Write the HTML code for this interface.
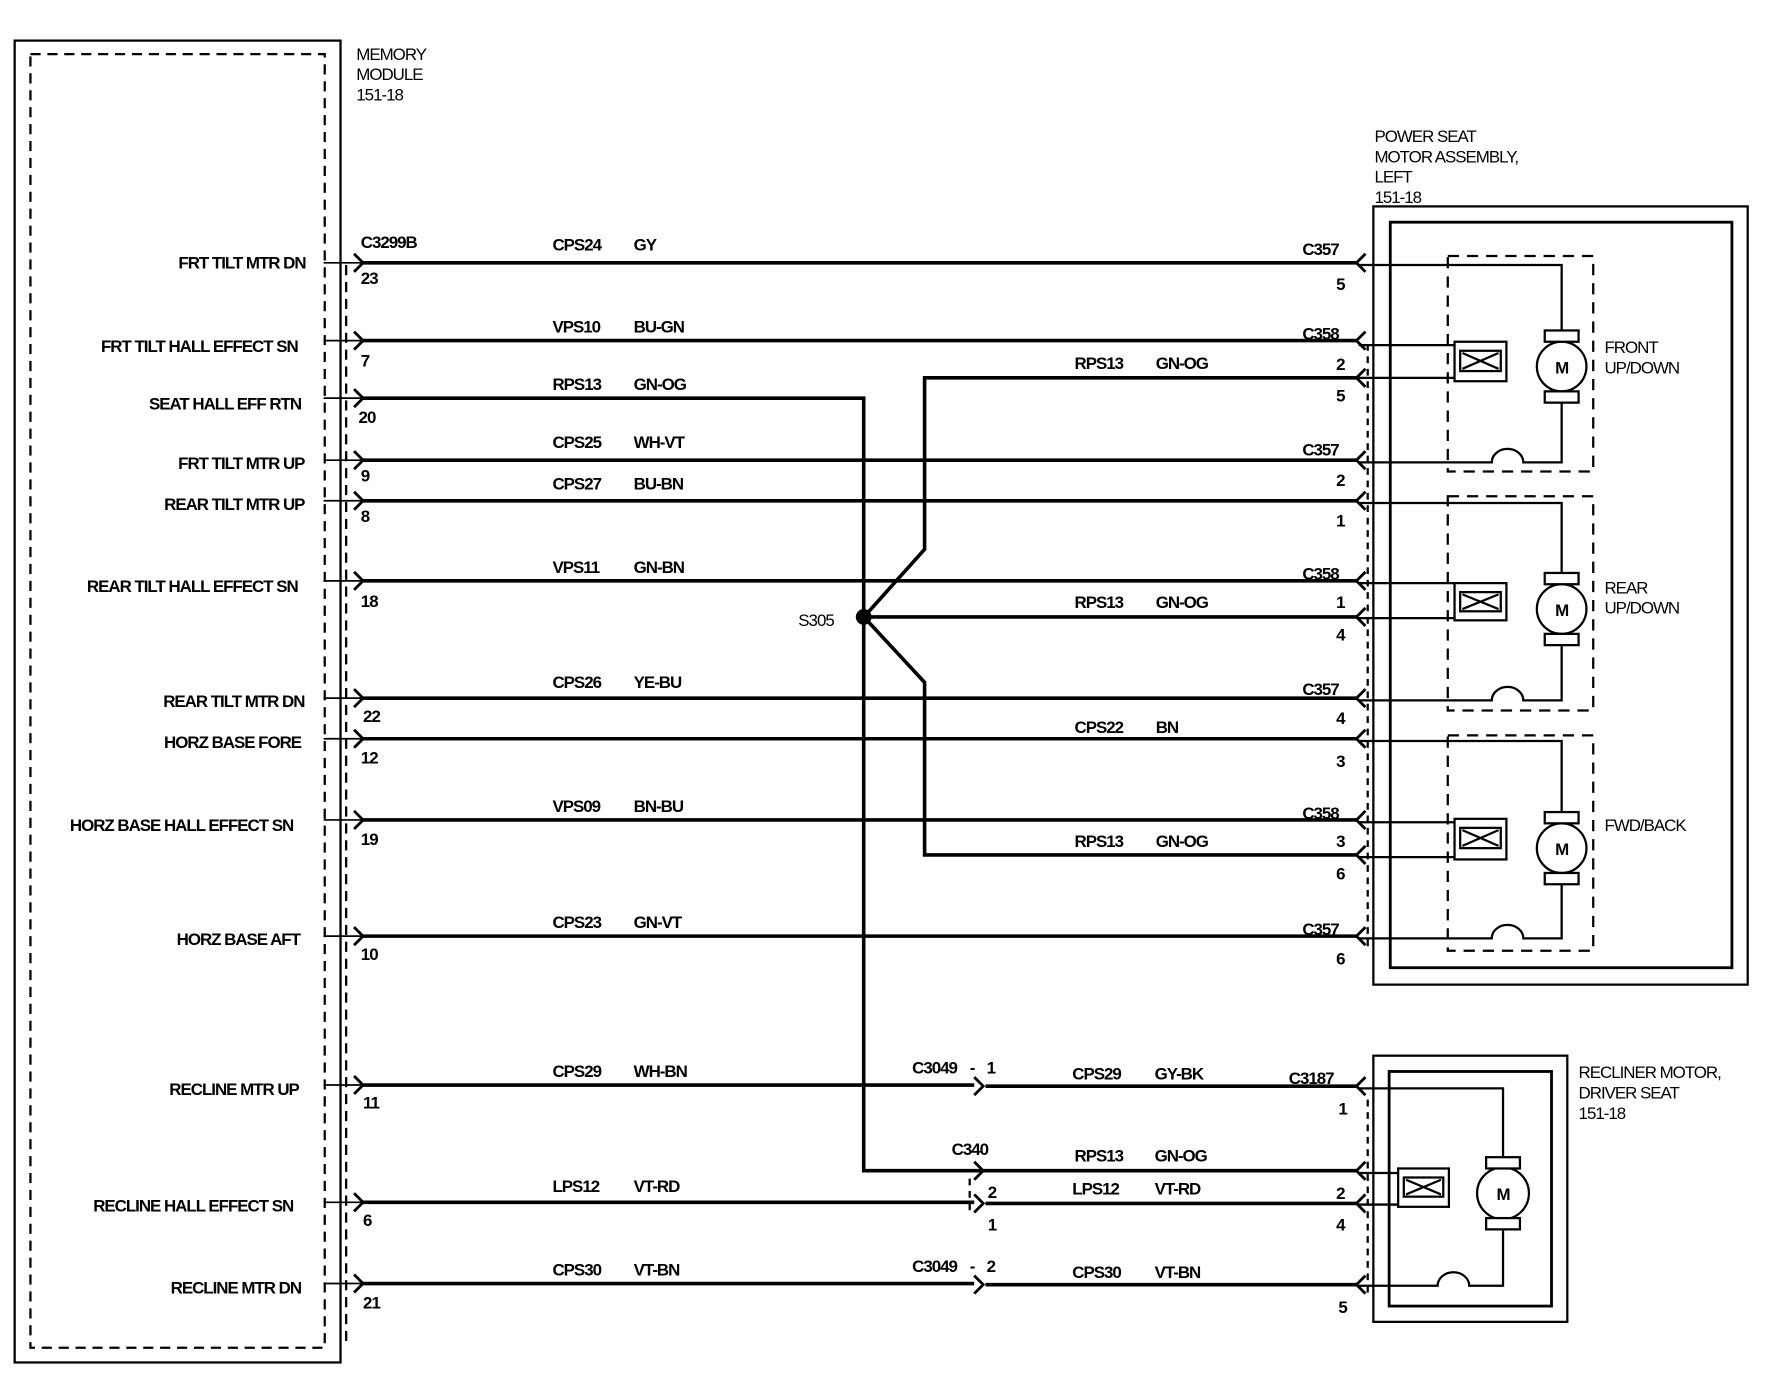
<!DOCTYPE html>
<html><head><meta charset="utf-8"><style>
html,body{margin:0;padding:0;background:#fff}
svg{display:block}
text{font-family:"Liberation Sans",sans-serif;font-size:15px;fill:#000;letter-spacing:-0.9px;font-weight:bold}
.n{font-weight:normal}
</style></head><body>
<svg width="1768" height="1376" viewBox="0 0 1568 1220" preserveAspectRatio="none" xmlns="http://www.w3.org/2000/svg">
<g fill="none" stroke="#000">
<rect x="13" y="36" width="289" height="1172" stroke-width="2"/>
<rect x="27" y="48" width="261" height="1147" stroke-width="2" stroke-dasharray="9,6"/>
<line x1="307" y1="235" x2="307" y2="1195" stroke-width="2" stroke-dasharray="9,6"/>
<g stroke-width="3.2">
<path d="M320 233 H1203"/>
<path d="M320 302 H1203"/>
<path d="M320 353 H766 V1038 H864 M864 1038 H1203"/>
<path d="M320 408 H1203"/>
<path d="M320 444 H1203"/>
<path d="M320 515 H1203"/>
<path d="M320 619 H1203"/>
<path d="M320 655 H1203"/>
<path d="M320 727 H1203"/>
<path d="M320 830 H1203"/>
<path d="M320 962 H864 M874 963 H1203"/>
<path d="M320 1066 H864 M874 1067 H1203"/>
<path d="M320 1138 H864 M874 1139 H1203"/>
<path d="M1203 335 H820 V487 L768 545"/>
<path d="M768 547 H1203"/>
<path d="M768 549 L820 605 V758 H1203"/>
</g>
<circle cx="766" cy="547" r="7" fill="#000" stroke="none"/>
<g stroke-width="1.5">
<path d="M287 233 H320 M287 302 H320 M287 353 H320 M287 408 H320 M287 444 H320 M287 515 H320 M287 619 H320 M287 655 H320 M287 727 H320 M287 830 H320 M287 962 H320 M287 1066 H320 M287 1138 H320"/>
</g>
<g stroke-width="2.5">
<path d="M314 225 L322 233 L314 241"/>
<path d="M314 294 L322 302 L314 310"/>
<path d="M314 345 L322 353 L314 361"/>
<path d="M314 400 L322 408 L314 416"/>
<path d="M314 436 L322 444 L314 452"/>
<path d="M314 507 L322 515 L314 523"/>
<path d="M314 611 L322 619 L314 627"/>
<path d="M314 647 L322 655 L314 663"/>
<path d="M314 719 L322 727 L314 735"/>
<path d="M314 822 L322 830 L314 838"/>
<path d="M314 954 L322 962 L314 970"/>
<path d="M314 1058 L322 1066 L314 1074"/>
<path d="M314 1130 L322 1138 L314 1146"/>
<path d="M864 955 L872 963 L864 971"/>
<path d="M864 1030 L872 1038 L864 1046"/>
<path d="M864 1059 L872 1067 L864 1075"/>
<path d="M864 1131 L872 1139 L864 1147"/>
<path d="M1211 225 L1203 233 L1211 241"/>
<path d="M1211 294 L1203 302 L1211 310"/>
<path d="M1211 327 L1203 335 L1211 343"/>
<path d="M1211 400 L1203 408 L1211 416"/>
<path d="M1211 436 L1203 444 L1211 452"/>
<path d="M1211 507 L1203 515 L1211 523"/>
<path d="M1211 539 L1203 547 L1211 555"/>
<path d="M1211 611 L1203 619 L1211 627"/>
<path d="M1211 647 L1203 655 L1211 663"/>
<path d="M1211 719 L1203 727 L1211 735"/>
<path d="M1211 750 L1203 758 L1211 766"/>
<path d="M1211 822 L1203 830 L1211 838"/>
<path d="M1211 955 L1203 963 L1211 971"/>
<path d="M1211 1030 L1203 1038 L1211 1046"/>
<path d="M1211 1059 L1203 1067 L1211 1075"/>
<path d="M1211 1131 L1203 1139 L1211 1147"/>
</g>
<path d="M860 1045 V1075" stroke-width="2" stroke-dasharray="6,5"/>
<path d="M1213 305 V840" stroke-width="2" stroke-dasharray="6,5"/>
<path d="M1213 975 V1150" stroke-width="2" stroke-dasharray="6,5"/>
<rect x="1218" y="183" width="332" height="690" stroke-width="2"/>
<rect x="1233" y="197" width="303" height="661" stroke-width="2.5"/>
<g stroke-width="2" stroke-dasharray="10,7">
<rect x="1284" y="227" width="129" height="191"/>
<rect x="1284" y="440" width="129" height="190"/>
<rect x="1284" y="652" width="129" height="191"/>
</g>
<g stroke-width="2">
<path d="M1205 235 H1385 V293 M1385 357 V410 H1351 A14 12 0 0 0 1323 410 H1205"/>
<circle cx="1385" cy="325" r="22"/>
<rect x="1370" y="293" width="30" height="10" fill="#fff"/>
<rect x="1370" y="347" width="30" height="10" fill="#fff"/>
<path d="M1205 306 H1290 M1205 335 H1290"/>
<rect x="1290" y="303" width="46" height="35"/>
<rect x="1295" y="311" width="36" height="18"/>
<path d="M1297 313 L1329 327 M1297 327 L1329 313"/>
<path d="M1205 446 H1385 V508 M1385 572 V621 H1351 A14 12 0 0 0 1323 621 H1205"/>
<circle cx="1385" cy="540" r="22"/>
<rect x="1370" y="508" width="30" height="10" fill="#fff"/>
<rect x="1370" y="562" width="30" height="10" fill="#fff"/>
<path d="M1205 517 H1290 M1205 548 H1290"/>
<rect x="1290" y="517" width="46" height="33"/>
<rect x="1295" y="525" width="36" height="17"/>
<path d="M1297 527 L1329 540 M1297 540 L1329 527"/>
<path d="M1205 657 H1385 V720 M1385 784 V832 H1351 A14 12 0 0 0 1323 832 H1205"/>
<circle cx="1385" cy="752" r="22"/>
<rect x="1370" y="720" width="30" height="10" fill="#fff"/>
<rect x="1370" y="774" width="30" height="10" fill="#fff"/>
<path d="M1205 729 H1290 M1205 760 H1290"/>
<rect x="1290" y="726" width="46" height="36"/>
<rect x="1295" y="734" width="36" height="18"/>
<path d="M1297 736 L1329 750 M1297 750 L1329 736"/>
</g>
<rect x="1218" y="936" width="172" height="236" stroke-width="2"/>
<rect x="1232" y="950" width="144" height="208" stroke-width="2.5"/>
<g stroke-width="2">
<path d="M1205 965 H1333 V1027 M1333 1090 V1140 H1303 A14 12 0 0 0 1275 1140 H1205"/>
<circle cx="1333" cy="1058" r="23"/>
<rect x="1318" y="1026" width="30" height="10" fill="#fff"/>
<rect x="1318" y="1080" width="30" height="10" fill="#fff"/>
<path d="M1205 1040 H1240 M1205 1068 H1240"/>
<rect x="1240" y="1036" width="45" height="34"/>
<rect x="1245" y="1044" width="35" height="17"/>
<path d="M1247 1046 L1278 1059 M1247 1059 L1278 1046"/>
</g>
</g>
<g text-anchor="middle" style="font-size:17px">
<text x="1385" y="331">M</text>
<text x="1385" y="546">M</text>
<text x="1385" y="758">M</text>
<text x="1333" y="1064">M</text>
</g>
<g class="n">
<text x="316" y="53" class="n">MEMORY</text>
<text x="316" y="71" class="n">MODULE</text>
<text x="316" y="89" class="n">151-18</text>
<text x="1219" y="126" class="n">POWER SEAT</text>
<text x="1219" y="144" class="n">MOTOR ASSEMBLY,</text>
<text x="1219" y="162" class="n">LEFT</text>
<text x="1219" y="180" class="n">151-18</text>
<text x="1400" y="956" class="n">RECLINER MOTOR,</text>
<text x="1400" y="974" class="n">DRIVER SEAT</text>
<text x="1400" y="992" class="n">151-18</text>
<text x="708" y="555" class="n">S305</text>
<text x="1423" y="313" class="n">FRONT</text>
<text x="1423" y="331" class="n">UP/DOWN</text>
<text x="1423" y="526" class="n">REAR</text>
<text x="1423" y="544" class="n">UP/DOWN</text>
<text x="1423" y="737" class="n">FWD/BACK</text>
</g>
<g text-anchor="end">
<text x="271" y="238">FRT TILT MTR DN</text>
<text x="264" y="312">FRT TILT HALL EFFECT SN</text>
<text x="267" y="363">SEAT HALL EFF RTN</text>
<text x="270" y="416">FRT TILT MTR UP</text>
<text x="270" y="452">REAR TILT MTR UP</text>
<text x="264" y="525">REAR TILT HALL EFFECT SN</text>
<text x="270" y="627">REAR TILT MTR DN</text>
<text x="267" y="663">HORZ BASE FORE</text>
<text x="260" y="737">HORZ BASE HALL EFFECT SN</text>
<text x="266" y="838">HORZ BASE AFT</text>
<text x="265" y="971">RECLINE MTR UP</text>
<text x="260" y="1074">RECLINE HALL EFFECT SN</text>
<text x="267" y="1147">RECLINE MTR DN</text>
</g>
<g>
<text x="320" y="220">C3299B</text>
<text x="320" y="252">23</text>
<text x="320" y="325">7</text>
<text x="318" y="375">20</text>
<text x="320" y="427">9</text>
<text x="320" y="463">8</text>
<text x="320" y="538">18</text>
<text x="322" y="640">22</text>
<text x="320" y="677">12</text>
<text x="320" y="749">19</text>
<text x="320" y="851">10</text>
<text x="322" y="983">11</text>
<text x="322" y="1087">6</text>
<text x="322" y="1160">21</text>
<text x="490" y="222">CPS24</text><text x="562" y="222">GY</text>
<text x="490" y="295">VPS10</text><text x="562" y="295">BU-GN</text>
<text x="490" y="346">RPS13</text><text x="562" y="346">GN-OG</text>
<text x="490" y="397">CPS25</text><text x="562" y="397">WH-VT</text>
<text x="490" y="434">CPS27</text><text x="562" y="434">BU-BN</text>
<text x="490" y="508">VPS11</text><text x="562" y="508">GN-BN</text>
<text x="490" y="610">CPS26</text><text x="562" y="610">YE-BU</text>
<text x="490" y="720">VPS09</text><text x="562" y="720">BN-BU</text>
<text x="490" y="823">CPS23</text><text x="562" y="823">GN-VT</text>
<text x="490" y="955">CPS29</text><text x="562" y="955">WH-BN</text>
<text x="490" y="1057">LPS12</text><text x="562" y="1057">VT-RD</text>
<text x="490" y="1131">CPS30</text><text x="562" y="1131">VT-BN</text>
<text x="953" y="327">RPS13</text><text x="1025" y="327">GN-OG</text>
<text x="953" y="539">RPS13</text><text x="1025" y="539">GN-OG</text>
<text x="953" y="650">CPS22</text><text x="1025" y="650">BN</text>
<text x="953" y="751">RPS13</text><text x="1025" y="751">GN-OG</text>
<text x="951" y="957">CPS29</text><text x="1024" y="957">GY-BK</text>
<text x="953" y="1030">RPS13</text><text x="1024" y="1030">GN-OG</text>
<text x="951" y="1059">LPS12</text><text x="1024" y="1059">VT-RD</text>
<text x="951" y="1133">CPS30</text><text x="1024" y="1133">VT-BN</text>
<text x="809" y="952">C3049</text><text x="860" y="952">-</text><text x="875" y="952">1</text>
<text x="844" y="1024">C340</text>
<text x="876" y="1062">2</text><text x="876" y="1091">1</text>
<text x="809" y="1128">C3049</text><text x="860" y="1128">-</text><text x="875" y="1128">2</text>
<text x="1155" y="226">C357</text><text x="1185" y="257">5</text>
<text x="1155" y="301">C358</text><text x="1185" y="328">2</text><text x="1185" y="356">5</text>
<text x="1155" y="404">C357</text><text x="1185" y="431">2</text><text x="1185" y="467">1</text>
<text x="1155" y="514">C358</text><text x="1185" y="539">1</text><text x="1185" y="568">4</text>
<text x="1155" y="616">C357</text><text x="1185" y="642">4</text><text x="1185" y="680">3</text>
<text x="1155" y="726">C358</text><text x="1185" y="751">3</text><text x="1185" y="780">6</text>
<text x="1155" y="829">C357</text><text x="1185" y="855">6</text>
<text x="1143" y="961">C3187</text><text x="1187" y="988">1</text>
<text x="1185" y="1063">2</text><text x="1185" y="1091">4</text>
<text x="1187" y="1164">5</text>
</g>
</svg>
</body></html>
